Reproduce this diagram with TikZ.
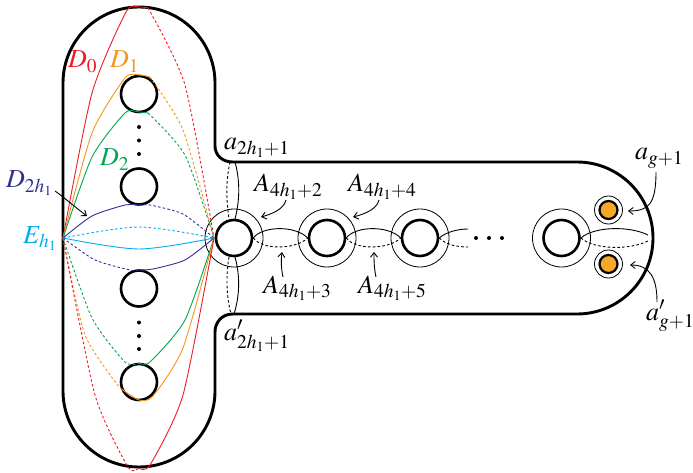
\documentclass[tikz,border=0pt]{standalone}
\usepackage{mathptmx}
\usetikzlibrary{arrows.meta}
\DeclareMathSizes{26}{26}{19.5}{14}
\definecolor{curvered}{RGB}{237,28,36}
\definecolor{curveorange}{RGB}{247,148,29}
\definecolor{curvegreen}{RGB}{0,166,81}
\definecolor{curveblue}{RGB}{46,49,146}
\definecolor{curvecyan}{RGB}{0,174,239}
\definecolor{puncture}{RGB}{247,168,41}
\begin{document}
\begin{tikzpicture}[x=1pt,y=-1pt,
        hole/.style={circle,draw,line width=2.6pt,minimum size=36pt,inner sep=0pt},
        collar/.style={circle,draw,line width=0.8pt,minimum size=58pt,inner sep=0pt},
        small hole/.style={circle,draw,line width=2.2pt,fill=puncture,minimum size=18pt,inner sep=0pt},
        small collar/.style={circle,draw,line width=0.8pt,minimum size=28pt,inner sep=0pt},
        dot/.style={circle,fill=black,minimum size=4pt,inner sep=0pt},
        lbl/.style={anchor=base west,inner sep=0pt,font=\fontsize{26}{30}\selectfont},
        front/.style={line width=0.9pt},
        back/.style={line width=0.9pt,dash pattern=on 2.6pt off 2.2pt},
        point/.style={-{Straight Barb[length=4.5pt,width=7pt]},line width=0.9pt}]
    \useasboundingbox (0,0) rectangle (693,473);

    % outline
    \draw[line width=2.9pt] (63,83) arc[start angle=180,end angle=0,radius=76pt]
        -- (215,146) .. controls (215,155) and (222,162) .. (233,162)
        -- (577,162) arc[start angle=90,end angle=-90,radius=76pt]
        -- (233,314) .. controls (222,314) and (215,322) .. (215,332)
        -- (215,391) arc[start angle=0,end angle=-180,radius=76pt] -- cycle;

    % holes
    \node[hole] (u1) at (139,94) {};
    \node[hole] (u2) at (139,186.5) {};
    \node[hole] (l2) at (139,288.5) {};
    \node[hole] (l1) at (139,382) {};
    \node[hole] (m1) at (234,238) {};
    \node[hole] (m2) at (327,238) {};
    \node[hole] (m3) at (420,238) {};
    \node[hole] (m4) at (561.5,238) {};
    \node[collar] (c1) at (m1) {};
    \node[collar] (c2) at (m2) {};
    \node[collar] (c3) at (m3) {};
    \node[collar] (c4) at (m4) {};
    \node[small hole] (p1) at (608.5,210) {};
    \node[small hole] (p2) at (608.5,264) {};
    \node[small collar] (q1) at (p1) {};
    \node[small collar] (q2) at (p2) {};

    % dots
    \node[dot] (d1) at (139,127) {};
    \node[dot] (d2) at (139,140.5) {};
    \node[dot] (d3) at (139,154) {};
    \node[dot] (d4) at (139,322.5) {};
    \node[dot] (d5) at (139,336) {};
    \node[dot] (d6) at (139,349) {};
    \node[dot] (d7) at (476,238) {};
    \node[dot] (d8) at (489,238) {};
    \node[dot] (d9) at (502,238) {};

    % curves of the left part
    \coordinate (pL) at (63,238);
    \coordinate (pR) at (214,238);
    \draw[front,curvered] plot[smooth,tension=.4] coordinates {(pL) (92,93) (126,12) (139,7) (148,8)};
    \draw[back,curvered] plot[smooth,tension=.4] coordinates {(148,8) (185,85) (pR)};
    \draw[front,curveorange] plot[smooth,tension=.4] coordinates {(pL) (92,133) (125,78) (139,75) (150,77)};
    \draw[back,curveorange] plot[smooth,tension=.4] coordinates {(150,77) (183,130) (pR)};
    \draw[front,curvegreen] plot[smooth,tension=.4] coordinates {(pL) (92,157) (125,113) (139,112) (148,113)};
    \draw[back,curvegreen] plot[smooth,tension=.4] coordinates {(148,113) (185,155) (pR)};
    \draw[front,curveblue] plot[smooth,tension=.4] coordinates {(pL) (92,216) (125,205) (139,205)};
    \draw[back,curveblue] plot[smooth,tension=.4] coordinates {(139,205) (150,205) (183,214) (pR)};
    \draw[back,curvecyan] plot[smooth,tension=.5] coordinates {(pL) (139,227) (pR)};
    \draw[front,curvecyan] plot[smooth,tension=.5] coordinates {(pL) (139,249) (pR)};
    \draw[back,curveblue] plot[smooth,tension=.4] coordinates {(pL) (95,260) (130,270) (139,270)};
    \draw[front,curveblue] plot[smooth,tension=.4] coordinates {(139,270) (153,269) (185,260) (pR)};
    \draw[back,curvegreen] plot[smooth,tension=.4] coordinates {(pL) (92,318) (125,362) (139,363)};
    \draw[front,curvegreen] plot[smooth,tension=.4] coordinates {(139,363) (150,362) (185,320) (pR)};
    \draw[back,curveorange] plot[smooth,tension=.4] coordinates {(pL) (85,335) (120,388)};
    \draw[front,curveorange] plot[smooth,tension=.4] coordinates {(120,388) (139,400) (153,396) (183,348) (pR)};
    \draw[back,curvered] plot[smooth,tension=.4] coordinates {(pL) (95,395) (128,467) (139,468)};
    \draw[front,curvered] plot[smooth,tension=.4] coordinates {(139,468) (150,465) (183,395) (pR)};

    % curves of the right part
    \draw[front] (235,162) .. controls (240,180) and (240,200) .. (235,219);
    \draw[back] (230,162) .. controls (226,180) and (226,198) .. (229,219);
    \draw[front] (235,257) .. controls (240,275) and (240,295) .. (234,314);
    \draw[back] (229,257) .. controls (226,275) and (226,295) .. (231,314);
    \draw[front] (m1.east) .. controls (262,226) and (295,225) .. (m2.west);
    \draw[back] (m1.east) .. controls (262,250) and (295,250) .. (m2.west);
    \draw[front] (m2.east) .. controls (355,226) and (388,225) .. (m3.west);
    \draw[back] (m2.east) .. controls (355,250) and (388,250) .. (m3.west);
    \draw[front] (m3.east) .. controls (446,232) and (458,229) .. (468,229);
    \draw[back] (m3.east) .. controls (446,245) and (458,247) .. (468,247);
    \draw[front] (m4.east) .. controls (595,226) and (630,226) .. (648,235);
    \draw[back] (m4.east) .. controls (595,250) and (630,250) .. (648,241);

    % labels
    \node[lbl,curvered] (D0) at (68,68) {$D_0$};
    \node[lbl,curveorange] (D1) at (110,68) {$D_1$};
    \node[lbl,curvegreen] (D2) at (100,166) {$D_2$};
    \node[lbl,curveblue] (D2h) at (6,188) {$D_{2h_1}$};
    \node[lbl,curvecyan] (Eh) at (23,243) {$E_{h_1}$};
    \node[lbl] (a1) at (224,150) {$a_{2h_1+1}$};
    \node[lbl] (a2) at (224,340) {$a'_{2h_1+1}$};
    \node[lbl] (A2) at (254,192) {$A_{4h_1+2}$};
    \node[lbl] (A4) at (348,192) {$A_{4h_1+4}$};
    \node[lbl] (A3) at (263,293) {$A_{4h_1+3}$};
    \node[lbl] (A5) at (358,293) {$A_{4h_1+5}$};
    \node[lbl] (ag) at (635,160) {$a_{g+1}$};
    \node[lbl] (agp) at (646,320) {$a'_{g+1}$};

    % arrows
    \coordinate (tD) at (87,216);
    \coordinate (tA2) at (261,217);
    \coordinate (tA4) at (353,217);
    \coordinate (tA3) at (282,252);
    \coordinate (tA5) at (374,252);
    \coordinate (tag) at (628,211);
    \coordinate (tagp) at (630,265);
    \draw[point] (55,191) .. controls (65,198) and (76,208) .. (tD);
    \draw[point] (286,200) .. controls (284,209) and (272,214) .. (tA2);
    \draw[point] (379,200) .. controls (377,209) and (365,214) .. (tA4);
    \draw[point] (283,277) .. controls (281,268) and (281,260) .. (tA3);
    \draw[point] (376,277) .. controls (374,268) and (374,260) .. (tA5);
    \draw[point] (656,172) .. controls (656,205) and (648,211) .. (tag);
    \draw[point] (657,302) .. controls (657,278) and (650,265) .. (tagp);
\end{tikzpicture}
\end{document}
